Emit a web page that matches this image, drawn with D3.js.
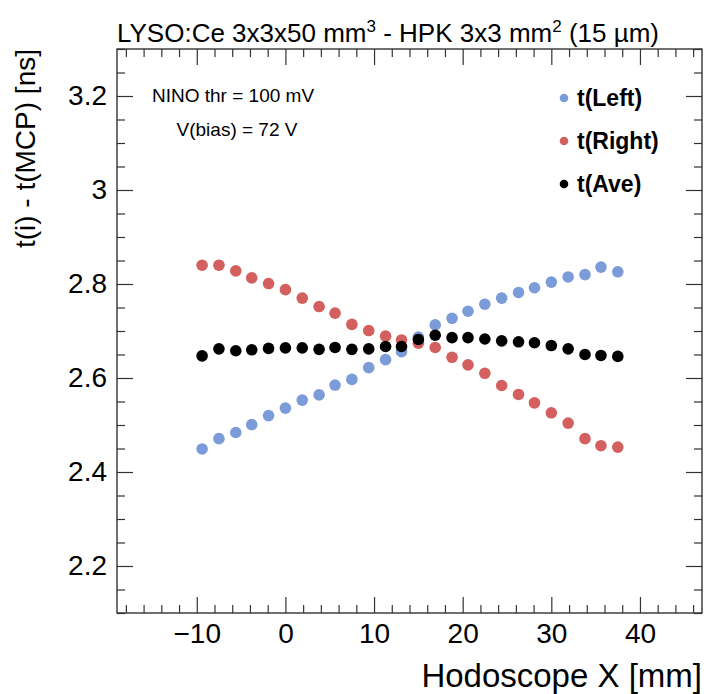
<!DOCTYPE html>
<html>
<head>
<meta charset="utf-8">
<script src="https://cdn.jsdelivr.net/npm/d3@7"></script>
<style>
  body { margin: 0; background: #fff; }
  svg { font-family: "Liberation Sans", Arial, Helvetica, sans-serif; }
</style>
</head>
<body>
<script>
// hodoscope positions (mm)
const xPos = [-9.4, -7.5, -5.6, -3.8, -1.9, 0, 1.9, 3.8, 5.6, 7.5, 9.4, 11.3, 13.1,
              15.0, 16.9, 18.8, 20.6, 22.5, 24.4, 26.3, 28.1, 30.0, 31.9, 33.8, 35.6, 37.5];
// t(i) - t(MCP) [ns]
const tLeft = [2.449, 2.471, 2.484, 2.501, 2.520, 2.536, 2.553, 2.564, 2.585, 2.597, 2.622, 2.639, 2.656,
               2.687, 2.713, 2.727, 2.742, 2.757, 2.770, 2.782, 2.792, 2.804, 2.815, 2.820, 2.836, 2.826];
const tRight = [2.840, 2.840, 2.828, 2.813, 2.801, 2.788, 2.770, 2.752, 2.738, 2.714, 2.701, 2.689, 2.681,
                2.674, 2.665, 2.644, 2.628, 2.610, 2.584, 2.565, 2.547, 2.526, 2.504, 2.471, 2.456, 2.453];
const tAve = [2.647, 2.662, 2.658, 2.660, 2.663, 2.664, 2.664, 2.661, 2.665, 2.661, 2.662, 2.667, 2.667,
              2.682, 2.691, 2.686, 2.686, 2.683, 2.679, 2.677, 2.675, 2.669, 2.662, 2.650, 2.648, 2.646];

const seriesNames = ["t(Left)", "t(Right)", "t(Ave)"];
const xTicks = [-10, 0, 10, 20, 30, 40];
const yTicks = [2.2, 2.4, 2.6, 2.8, 3.0, 3.2];

const W = 706, H = 694;
const pLeft = 117, pRight = 702, pTop = 49, pBottom = 613;

const svg = d3.select("body").append("svg")
  .attr("width", W).attr("height", H);

const x = d3.scaleLinear().domain([-19, 47]).range([pLeft, pRight]);
const y = d3.scaleLinear().domain([2.1, 3.3]).range([pBottom, pTop]);

const fmt = d3.format("~g");
const xMinor = d3.range(-18, 47, 2).filter(v => v % 10 !== 0);
const yMinor = d3.range(2.1, 3.3001, 0.05).map(v => +v.toFixed(2))
  .filter(v => Math.abs(Math.round(v * 5) - v * 5) > 1e-6);

// axes with inward ticks on all four sides
function drawAxis(axisFn, scale, pos, vals, size, labels) {
  const a = axisFn(scale).tickValues(vals).tickSizeInner(-size).tickSizeOuter(0)
    .tickPadding(labels ? 10 : 0)
    .tickFormat(labels ? fmt : "");
  const g = svg.append("g").attr("transform", pos).call(a);
  g.select(".domain").remove();
  g.selectAll("line").attr("stroke", "#333").attr("stroke-width", 1.2);
  g.selectAll("text").attr("fill", "#000").style("font-size", "28px");
  return g;
}

drawAxis(d3.axisBottom, x, `translate(0,${pBottom})`, xTicks, 16, true);
drawAxis(d3.axisBottom, x, `translate(0,${pBottom})`, xMinor, 8, false);
drawAxis(d3.axisTop, x, `translate(0,${pTop})`, xTicks, 16, false);
drawAxis(d3.axisTop, x, `translate(0,${pTop})`, xMinor, 8, false);
drawAxis(d3.axisLeft, y, `translate(${pLeft},0)`, yTicks, 16, true);
drawAxis(d3.axisLeft, y, `translate(${pLeft},0)`, yMinor, 8, false);
drawAxis(d3.axisRight, y, `translate(${pRight},0)`, yTicks, 16, false);
drawAxis(d3.axisRight, y, `translate(${pRight},0)`, yMinor, 8, false);

svg.append("rect")
  .attr("x", pLeft).attr("y", pTop)
  .attr("width", pRight - pLeft).attr("height", pBottom - pTop)
  .attr("fill", "none").attr("stroke", "#333").attr("stroke-width", 1.4);

// data
const colors = ["#7b9cd8", "#d45f5f", "#000000"];
const series = [tLeft, tRight, tAve];
series.forEach((vals, s) => {
  svg.append("g").selectAll("circle")
    .data(vals)
    .enter().append("circle")
    .attr("cx", (d, i) => x(xPos[i]))
    .attr("cy", d => y(d))
    .attr("r", 5.8)
    .attr("fill", colors[s]);
});

// legend
const legY = [98, 141, 184];
seriesNames.forEach((name, i) => {
  svg.append("circle").attr("cx", 564).attr("cy", legY[i]).attr("r", 4.3).attr("fill", colors[i]);
  svg.append("text").attr("x", 577).attr("y", legY[i] + 8)
    .style("font-size", "23px").style("font-weight", "bold").text(name);
});

// notes
svg.append("text").attr("x", 152).attr("y", 102).style("font-size", "19px").text("NINO thr = 100 mV");
svg.append("text").attr("x", 237).attr("y", 136).attr("text-anchor", "middle")
  .style("font-size", "19px").text("V(bias) = 72 V");

// title
const title = svg.append("text").attr("x", 117).attr("y", 42).style("font-size", "26px");
title.append("tspan").text("LYSO:Ce 3x3x50 mm");
title.append("tspan").attr("dy", -10).style("font-size", "17px").text("3");
title.append("tspan").attr("dy", 10).text(" - HPK 3x3 mm");
title.append("tspan").attr("dy", -10).style("font-size", "17px").text("2");
title.append("tspan").attr("dy", 10).text(" (15 \u00b5m)");

// axis titles
svg.append("text")
  .attr("transform", `translate(35,${pTop}) rotate(-90)`)
  .attr("text-anchor", "end")
  .style("font-size", "28px")
  .text("t(i) - t(MCP) [ns]");

svg.append("text")
  .attr("x", pRight).attr("y", 687)
  .attr("text-anchor", "end")
  .style("font-size", "33px")
  .text("Hodoscope X [mm]");
</script>
</body>
</html>
